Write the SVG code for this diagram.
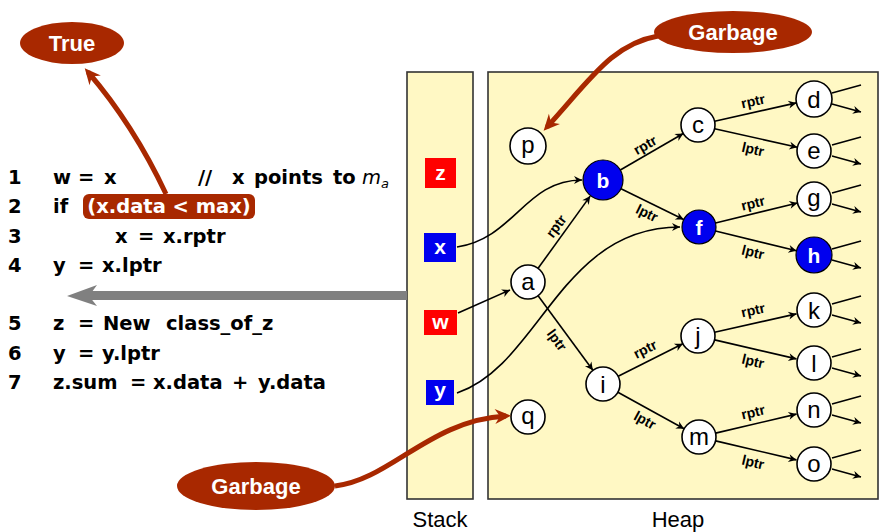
<svg xmlns="http://www.w3.org/2000/svg" width="880" height="532" viewBox="0 0 880 532">
<style>
.box{fill:#fff8c4;stroke:#333;stroke-width:1.6}
.nd{fill:#fff;stroke:#000;stroke-width:1.6}
.bn{fill:#0000ee;stroke:#000;stroke-width:1.2}
.nt{font-family:"Liberation Sans",Arial,sans-serif;font-size:24px;text-anchor:middle;fill:#000}
.bt{font-family:"Liberation Sans",Arial,sans-serif;font-size:21px;font-weight:bold;text-anchor:middle;fill:#fff}
.e{stroke:#000;stroke-width:1.6;fill:none;marker-end:url(#ah)}
.el{font-family:"Liberation Sans",Arial,sans-serif;font-size:14px;font-weight:bold;text-anchor:middle;dominant-baseline:central;fill:#000}
.code text{font-family:"DejaVu Sans","Liberation Sans",sans-serif;font-size:19.5px;font-weight:bold;fill:#000}
.red{stroke:#a82800;stroke-width:5;fill:none;marker-end:url(#rh)}
.bub{fill:#a82800}
.bubt{font-family:"Liberation Sans",Arial,sans-serif;font-size:22px;font-weight:bold;text-anchor:middle;fill:#fff}
.cap{font-family:"Liberation Sans",Arial,sans-serif;font-size:22px;text-anchor:middle;fill:#000}
</style>
<defs>
<marker id="ah" viewBox="-9 -5 10 10" refX="0" refY="0" markerWidth="10" markerHeight="10" markerUnits="userSpaceOnUse" orient="auto"><path d="M-8,-4 L0,0 L-8,4 L-5.5,0 Z" fill="#000"/></marker>
<marker id="rh" viewBox="-12 -9 18 18" refX="0" refY="0" markerWidth="18" markerHeight="18" markerUnits="userSpaceOnUse" orient="auto"><path d="M-11,-7.5 L5,0 L-11,7.5 L-6,0 Z" fill="#a82800"/></marker>
</defs>
<rect width="880" height="532" fill="#fff"/>

<g id="stack">
<rect class="box" x="407" y="72" width="66" height="427"/>
<text class="cap" x="440" y="527">Stack</text>
</g>
<g id="heap">
<rect class="box" x="488" y="72" width="390" height="427"/>
<text class="cap" x="678" y="527">Heap</text>
</g>

<g id="var-z"><rect x="425" y="158" width="31" height="30" fill="#ff0000"/><text class="bt" x="440.5" y="180">z</text></g>
<g id="var-x"><rect x="424" y="233" width="32" height="29" fill="#0000ee"/><text class="bt" x="440" y="254">x</text></g>
<g id="var-w"><rect x="424" y="310" width="33" height="25" fill="#ff0000"/><text class="bt" x="440.5" y="329">w</text></g>
<g id="var-y"><rect x="426" y="380" width="28" height="25" fill="#0000ee"/><text class="bt" x="440" y="397">y</text></g>

<g id="connectors">
<line class="e" x1="620.3" y1="170" x2="683.3" y2="133.5"/>
<line class="e" x1="621" y1="188.8" x2="683.7" y2="219.5"/>
<line class="e" x1="714.6" y1="121.3" x2="796.4" y2="102.9"/>
<line class="e" x1="714.6" y1="128.7" x2="797.4" y2="147.3"/>
<line class="e" x1="715.5" y1="223" x2="797.5" y2="203"/>
<line class="e" x1="715.5" y1="231" x2="796.5" y2="250.8"/>
<line class="e" x1="538.1" y1="268.3" x2="590.2" y2="196.1"/>
<line class="e" x1="538.1" y1="295.7" x2="592.9" y2="370.3"/>
<line class="e" x1="618.2" y1="376.3" x2="682.8" y2="343.7"/>
<line class="e" x1="617.9" y1="392.2" x2="684.1" y2="428.8"/>
<line class="e" x1="714.6" y1="332.3" x2="796.4" y2="313.9"/>
<line class="e" x1="714.6" y1="339.9" x2="796.5" y2="358.9"/>
<line class="e" x1="715.6" y1="433.1" x2="796.5" y2="414.1"/>
<line class="e" x1="715.6" y1="440.9" x2="796.5" y2="459.9"/>
<path class="e" d="M457,247 C515,238 525,180 582,180"/>
<path class="e" d="M458,313 L510,290"/>
<path class="e" d="M457,393 C540,365 560,227 680,227"/>
<g id="leaf-out">
<path class="e" d="M832,93 L861,85 M832,104 L861,112"/>
<path class="e" d="M832,145 L861,137 M832,156 L861,164"/>
<path class="e" d="M832,193 L861,185 M832,204 L861,212"/>
<path class="e" d="M832,249 L861,241 M832,260 L861,268"/>
<path class="e" d="M832,304 L861,296 M832,315 L861,323"/>
<path class="e" d="M832,357 L861,349 M832,368 L861,376"/>
<path class="e" d="M832,404 L861,396 M832,415 L861,423"/>
<path class="e" d="M832,458 L861,450 M832,469 L861,477"/>
</g>
<text class="el" transform="translate(645,145) rotate(-30)">rptr</text>
<text class="el" transform="translate(647,213) rotate(26)">lptr</text>
<text class="el" transform="translate(753,101) rotate(-12.6)">rptr</text>
<text class="el" transform="translate(753,149) rotate(12.6)">lptr</text>
<text class="el" transform="translate(753,203) rotate(-13.7)">rptr</text>
<text class="el" transform="translate(753,252) rotate(13.7)">lptr</text>
<text class="el" transform="translate(556,226) rotate(-53.7)">rptr</text>
<text class="el" transform="translate(557,340) rotate(53.7)">lptr</text>
<text class="el" transform="translate(645,349) rotate(-26.8)">rptr</text>
<text class="el" transform="translate(645,420) rotate(28.9)">lptr</text>
<text class="el" transform="translate(753,310) rotate(-12.6)">rptr</text>
<text class="el" transform="translate(753,361) rotate(13.1)">lptr</text>
<text class="el" transform="translate(753,412) rotate(-13.2)">rptr</text>
<text class="el" transform="translate(753,462) rotate(13.2)">lptr</text>
</g>

<g id="node-p"><circle class="nd" cx="528" cy="146" r="18"/><text class="nt" x="528" y="153">p</text></g>
<g id="node-b"><circle class="bn" cx="603" cy="180" r="20"/><text class="bt" x="603" y="188" font-size="23">b</text></g>
<g id="node-c"><circle class="nd" cx="698" cy="125" r="17"/><text class="nt" x="698" y="133">c</text></g>
<g id="node-d"><circle class="nd" cx="814" cy="99" r="18"/><text class="nt" x="814" y="108">d</text></g>
<g id="node-e"><circle class="nd" cx="814" cy="151" r="17"/><text class="nt" x="814" y="159">e</text></g>
<g id="node-f"><circle class="bn" cx="699" cy="227" r="17"/><text class="bt" x="699" y="235" font-size="23">f</text></g>
<g id="node-g"><circle class="nd" cx="814" cy="199" r="17"/><text class="nt" x="814" y="206">g</text></g>
<g id="node-h"><circle class="bn" cx="814" cy="255" r="18"/><text class="bt" x="814" y="263" font-size="23">h</text></g>
<g id="node-a"><circle class="nd" cx="528" cy="282" r="17"/><text class="nt" x="528" y="290">a</text></g>
<g id="node-k"><circle class="nd" cx="814" cy="310" r="17"/><text class="nt" x="814" y="319">k</text></g>
<g id="node-i"><circle class="nd" cx="603" cy="384" r="17"/><text class="nt" x="603" y="393">i</text></g>
<g id="node-j"><circle class="nd" cx="698" cy="336" r="17"/><text class="nt" x="698" y="344">j</text></g>
<g id="node-l"><circle class="nd" cx="814" cy="363" r="17"/><text class="nt" x="814" y="372">l</text></g>
<g id="node-q"><circle class="nd" cx="528" cy="417" r="17"/><text class="nt" x="528" y="424">q</text></g>
<g id="node-m"><circle class="nd" cx="699" cy="437" r="17"/><text class="nt" x="699" y="445">m</text></g>
<g id="node-n"><circle class="nd" cx="814" cy="410" r="17"/><text class="nt" x="814" y="418">n</text></g>
<g id="node-o"><circle class="nd" cx="814" cy="464" r="17"/><text class="nt" x="814" y="472">o</text></g>

<g id="gray-arrow">
<line x1="407" y1="295.5" x2="88" y2="295.5" stroke="#808080" stroke-width="9"/>
<path d="M67,296 L97,285 L89,296 L97,306 Z" fill="#808080"/>
</g>

<g id="code" class="code">
<text x="8" y="184">1</text>
<text x="8" y="213">2</text>
<text x="8" y="243">3</text>
<text x="8" y="272">4</text>
<text x="8" y="330">5</text>
<text x="8" y="360">6</text>
<text x="8" y="389">7</text>
<text x="53" y="184">w</text>
<text x="78" y="184">=</text>
<text x="104" y="184">x</text>
<text x="198" y="184">//</text>
<text x="232" y="184">x</text>
<text x="254" y="184">points</text>
<text x="333" y="184">to</text>
<text x="362" y="184" font-style="italic" style="font-weight:normal">m<tspan font-size="13" dy="4">a</tspan></text>
<text x="53" y="213">if</text>
<rect x="83" y="194" width="172" height="25" rx="6" fill="#a82800"/>
<text x="169" y="213" text-anchor="middle" style="fill:#fff">(x.data &lt; max)</text>
<text x="115" y="243">x</text>
<text x="138" y="243">=</text>
<text x="163" y="243">x.rptr</text>
<text x="53" y="272">y</text>
<text x="78" y="272">=</text>
<text x="102" y="272">x.lptr</text>
<text x="53" y="330">z</text>
<text x="78" y="330">=</text>
<text x="103" y="330">New</text>
<text x="166" y="330">class_of_z</text>
<text x="53" y="360">y</text>
<text x="78" y="360">=</text>
<text x="102" y="360">y.lptr</text>
<text x="53" y="389">z.sum</text>
<text x="130" y="389">=</text>
<text x="153" y="389">x.data</text>
<text x="232" y="389">+</text>
<text x="258" y="389">y.data</text>
</g>

<g id="true-callout">
<path class="red" d="M166,194 C150,160 125,115 88,72"/>
<ellipse class="bub" cx="72" cy="43" rx="52" ry="21"/>
<text class="bubt" x="72" y="51">True</text>
</g>
<g id="garbage-top">
<path class="red" d="M658,36 C612,44 590,80 547,127"/>
<ellipse class="bub" cx="733" cy="32" rx="79" ry="21"/>
<text class="bubt" x="733" y="40">Garbage</text>
</g>
<g id="garbage-bottom">
<path class="red" d="M335,486 C390,480 430,420 506,416"/>
<ellipse class="bub" cx="256" cy="486" rx="79" ry="24"/>
<text class="bubt" x="256" y="494">Garbage</text>
</g>
</svg>
